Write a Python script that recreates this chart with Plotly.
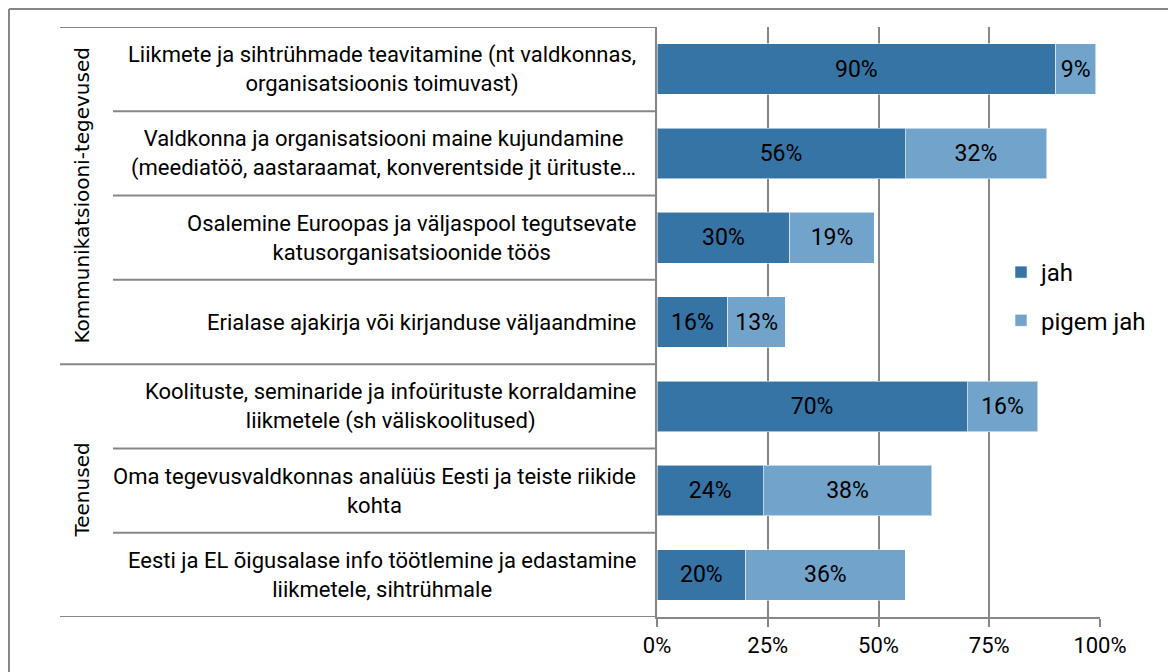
import plotly.graph_objects as go

# ---- data ----
categories = [
    "Liikmete ja sihtrühmade teavitamine (nt valdkonnas,<br>organisatsioonis toimuvast)",
    "Valdkonna ja organisatsiooni maine kujundamine<br>(meediatöö, aastaraamat, konverentside jt ürituste…",
    "Osalemine Euroopas ja väljaspool tegutsevate<br>katusorganisatsioonide töös",
    "Erialase ajakirja või kirjanduse väljaandmine",
    "Koolituste, seminaride ja infoürituste korraldamine<br>liikmetele (sh väliskoolitused)",
    "Oma tegevusvaldkonnas analüüs Eesti ja teiste riikide<br>kohta",
    "Eesti ja EL õigusalase info töötlemine ja edastamine<br>liikmetele, sihtrühmale",
]
groups = ["Kommunikatsiooni-tegevused", "Teenused"]
group_sizes = [4, 3]
jah = [90, 56, 30, 16, 70, 24, 20]
pigem_jah = [9, 32, 19, 13, 16, 38, 36]
series_names = ["jah", "pigem jah"]
tick_vals = [0, 25, 50, 75, 100]
tick_text = ["0%", "25%", "50%", "75%", "100%"]

# ---- layout geometry (pixels, page coords; page body has 8px margin) ----
OFF = 8
W, H = 1176 - OFF, 672 - OFF
PL, PR, PT, PB = 657, 1100, 27, 617
GRAY = "#878787"
FONT = "Roboto"


def px2x(px):
    return (px - PL) / (PR - PL)


def px2y(py):
    return (PB - py) / (PB - PT)


fig = go.Figure()
colors = ["#3574a5", "#72a4cb"]
for name, vals, col in zip(series_names, [jah, pigem_jah], colors):
    fig.add_trace(go.Bar(
        name=name, y=categories, x=vals, orientation="h",
        text=[f"{v}%" for v in vals], textposition="inside",
        insidetextanchor="middle", constraintext="none",
        textfont=dict(color="black", size=23, family=FONT),
        marker=dict(color=col, line=dict(color="rgba(255,255,255,0.55)", width=1)),
        legendgroup=name,
    ))

shapes = []
n = len(categories)
group_bounds = [0]
for s in group_sizes:
    group_bounds.append(group_bounds[-1] + s)
for i in range(n + 1):
    x0 = px2x(60) if i in group_bounds else px2x(113)
    shapes.append(dict(type="line", xref="paper", yref="y", x0=x0, x1=0,
                       y0=i - 0.5, y1=i - 0.5, line=dict(color=GRAY, width=2)))
# outer border (left and top)
shapes.append(dict(type="line", xref="paper", yref="paper", x0=px2x(9), x1=px2x(9),
                   y0=px2y(9), y1=px2y(H + OFF + 5), line=dict(color=GRAY, width=2)))
shapes.append(dict(type="line", xref="paper", yref="paper", x0=px2x(9), x1=px2x(W + OFF + 5),
                   y0=px2y(9), y1=px2y(9), line=dict(color=GRAY, width=2)))

annotations = []
for cat in categories:
    annotations.append(dict(xref="paper", yref="y", x=px2x(638), y=cat,
                            text=cat, showarrow=False, xanchor="right", align="center",
                            font=dict(size=22, color="black", family=FONT)))
start = 0
for g, s in zip(groups, group_sizes):
    annotations.append(dict(xref="paper", yref="y", x=px2x(82), y=start + (s - 1) / 2,
                            text=g, showarrow=False, textangle=-90,
                            xanchor="center", yanchor="middle",
                            font=dict(size=20, color="black", family="DejaVu Sans")))
    start += s

fig.update_layout(
    width=W, height=H,
    margin=dict(l=PL - OFF, r=W + OFF - PR, t=PT - OFF, b=H + OFF - PB),
    barmode="stack", bargap=0.4,
    plot_bgcolor="white", paper_bgcolor="white",
    shapes=shapes, annotations=annotations,
    showlegend=True,
    legend=dict(x=px2x(1001), y=px2y(250), xanchor="left", yanchor="top",
                bgcolor="rgba(0,0,0,0)", traceorder="grouped", tracegroupgap=14,
                font=dict(size=24, color="black", family=FONT)),
    xaxis=dict(range=[0, 100], tickvals=tick_vals, ticktext=tick_text,
               showgrid=True, gridcolor=GRAY, gridwidth=2, zeroline=False,
               showline=True, linecolor=GRAY, linewidth=2,
               ticks="outside", ticklen=8, tickcolor=GRAY, tickwidth=2,
               tickfont=dict(size=22, color="black", family=FONT), fixedrange=True),
    yaxis=dict(range=[n - 0.5, -0.5], showticklabels=False, showgrid=False,
               showline=True, linecolor=GRAY, linewidth=2, ticks="", zeroline=False),
)

fig.write_html("out.html")
